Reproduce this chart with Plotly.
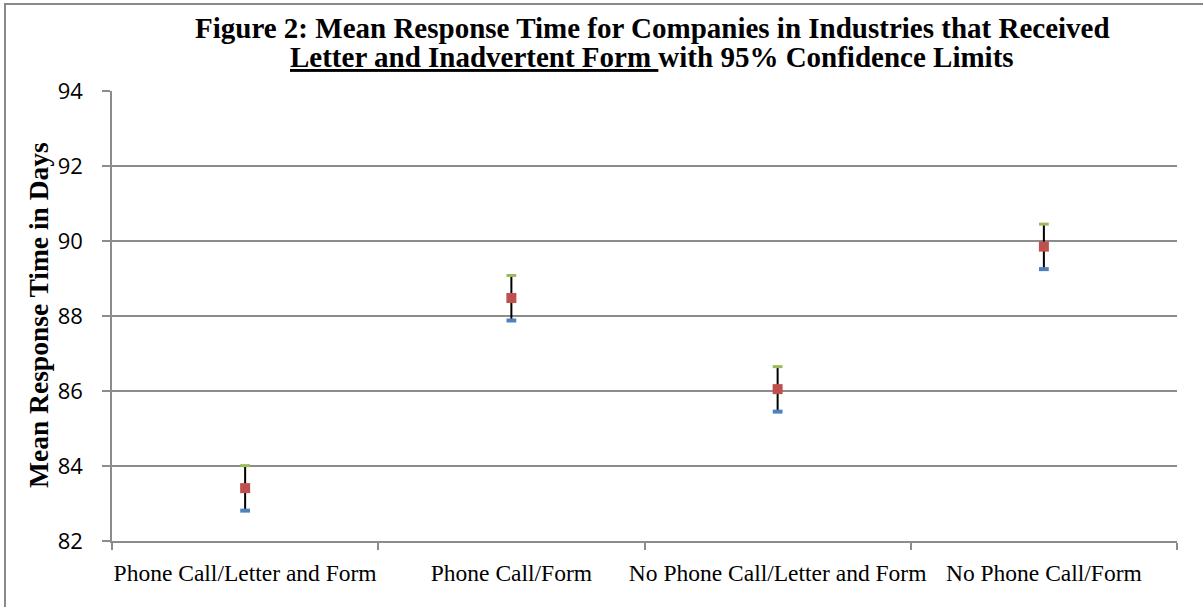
import plotly.graph_objects as go

categories = ["Phone Call/Letter and Form", "Phone Call/Form",
              "No Phone Call/Letter and Form", "No Phone Call/Form"]
mean_vals = [83.41, 88.48, 86.05, 89.85]
upper_vals = [84.01, 89.08, 86.65, 90.45]
lower_vals = [82.81, 87.88, 85.45, 89.25]
y_ticks = [82, 84, 86, 88, 90, 92, 94]

W, H = 1203, 607
L, R, T, B = 112, 26, 91, 66
pw, ph = W - L - R, H - T - B

def px_x(p):
    return (p - L) / pw

def px_y(p):
    return (H - B - p) / ph

fig = go.Figure()

fig.add_trace(go.Scatter(
    x=categories, y=mean_vals, mode="markers",
    marker=dict(symbol="square", size=10, color="#C0504D"),
    error_y=dict(type="data", symmetric=False,
                 array=[u - m for u, m in zip(upper_vals, mean_vals)],
                 arrayminus=[m - l for m, l in zip(mean_vals, lower_vals)],
                 color="black", thickness=2, width=0),
    showlegend=False, hoverinfo="skip"))

fig.add_trace(go.Scatter(
    x=categories, y=upper_vals, mode="markers",
    marker=dict(symbol="line-ew", size=7, line=dict(color="#9BBB59", width=3)),
    showlegend=False, hoverinfo="skip"))

fig.add_trace(go.Scatter(
    x=categories, y=lower_vals, mode="markers",
    marker=dict(symbol="line-ew", size=7, line=dict(color="#4F81BD", width=4)),
    showlegend=False, hoverinfo="skip"))

axis_col = "#8C8C8C"
fig.update_layout(
    width=W, height=H,
    margin=dict(l=L, r=R, t=T, b=B, pad=0, autoexpand=False),
    paper_bgcolor="white", plot_bgcolor="white",
    xaxis=dict(type="category", range=[-0.5, 3.5], tickson="boundaries",
               showgrid=False, showline=True, linecolor=axis_col, linewidth=1.5,
               ticks="outside", ticklen=7, tickcolor=axis_col, tickwidth=1.5,
               tickangle=0, automargin=False, ticklabelstandoff=10,
               tickfont=dict(family="Liberation Serif", size=23.5, color="black"),
               zeroline=False, fixedrange=True),
    yaxis=dict(range=[82, 94], tickvals=y_ticks, ticktext=[str(v) for v in y_ticks],
               showgrid=True, gridcolor=axis_col, gridwidth=1.5,
               showline=True, linecolor=axis_col, linewidth=1.5,
               ticks="outside", ticklen=8, tickcolor=axis_col, tickwidth=1.5,
               ticklabelstandoff=15, automargin=False,
               tickfont=dict(family="Open Sans", size=22, color="black"),
               zeroline=False, fixedrange=True),
    font=dict(family="Liberation Serif", color="black"),
    shapes=[dict(type="rect", xref="paper", yref="paper",
                 x0=px_x(5), x1=px_x(1240), y0=px_y(640), y1=px_y(4),
                 line=dict(color="#898989", width=2), fillcolor="rgba(0,0,0,0)",
                 layer="below")],
    annotations=[
        dict(text="<b>Figure 2: Mean Response Time for Companies in Industries that Received</b>",
             xref="paper", yref="paper", x=px_x(652), y=px_y(46), xanchor="center",
             yanchor="bottom", showarrow=False,
             font=dict(family="Liberation Serif", size=29, color="black")),
        dict(text="<b><u>Letter and Inadvertent Form\u00a0</u>with 95% Confidence Limits</b>",
             xref="paper", yref="paper", x=px_x(652), y=px_y(75), xanchor="center",
             yanchor="bottom", showarrow=False,
             font=dict(family="Liberation Serif", size=29, color="black")),
        dict(text="<b>Mean Response Time in Days</b>",
             xref="paper", yref="paper", x=px_x(38), y=px_y(315), xanchor="center",
             yanchor="middle", textangle=-90, showarrow=False,
             font=dict(family="Liberation Serif", size=27.5, color="black")),
    ],
)

fig.write_html("out.html")
